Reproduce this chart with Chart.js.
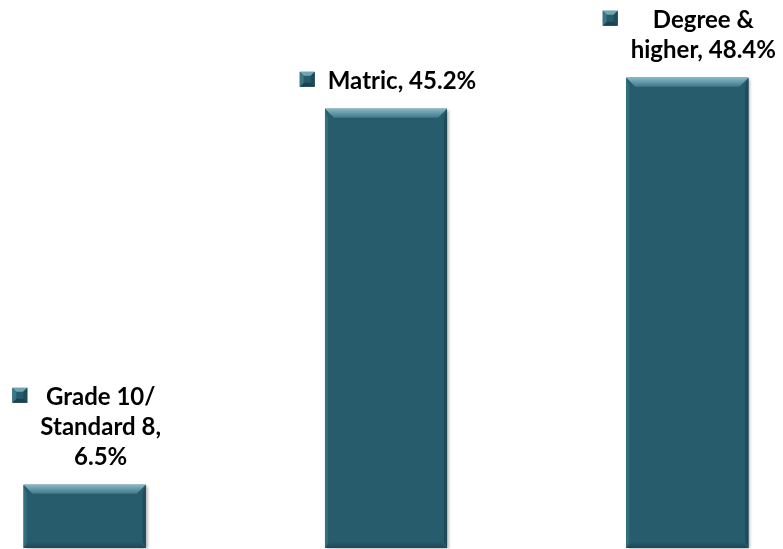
<!DOCTYPE html>
<html>
<head>
<meta charset="utf-8">
<script src="https://cdn.jsdelivr.net/npm/chart.js@4.4.1/dist/chart.umd.min.js"></script>
<style>
html,body{margin:0;padding:0;background:#fff;overflow:hidden;width:783px;height:549px;}
#wrap{position:absolute;left:-66px;top:0;width:904px;height:549px;}
</style>
</head>
<body>
<div id="wrap"><canvas id="c"></canvas></div>
<script>
const categories = [["Grade 10/", "Standard 8,"], ["Matric,"], ["Degree &", "higher,"]];
const values = [6.5, 45.2, 48.4];
const seriesName = "Education level";

const BAR = '#275c6c';

function labelLines(i) {
  const cat = categories[i];
  const v = values[i].toFixed(1) + '%';
  if (i === 0) return [cat[0], cat[1], v];
  if (i === 1) return [cat[0] + ' ' + v];
  return [cat[0], cat[1] + ' ' + v];
}

const bevelPlugin = {
  id: 'bevel',
  beforeDatasetsDraw(chart) {
    const ctx = chart.ctx;
    const meta = chart.getDatasetMeta(0);
    ctx.save();
    meta.data.forEach(el => {
      const w = el.width, l = el.x - w/2, t = el.y, h = el.base - el.y;
      ctx.shadowColor = 'rgba(0,0,0,0.35)';
      ctx.shadowBlur = 3;
      ctx.shadowOffsetX = 2;
      ctx.shadowOffsetY = 1;
      ctx.fillStyle = BAR;
      ctx.fillRect(l, t, w, h);
    });
    ctx.restore();
  },
  afterDatasetsDraw(chart) {
    const ctx = chart.ctx;
    const meta = chart.getDatasetMeta(0);
    ctx.save();
    meta.data.forEach(el => {
      const w = el.width, l = el.x - w/2, r = el.x + w/2, t = el.y, b = el.base;
      const bt = 9, bb = 6, bs = 3;
      let g = ctx.createLinearGradient(0, t, 0, t + bt);
      g.addColorStop(0, '#84b8c5');
      g.addColorStop(1, '#3f7888');
      ctx.fillStyle = g;
      ctx.beginPath();
      ctx.moveTo(l, t); ctx.lineTo(r, t); ctx.lineTo(r - bt, t + bt); ctx.lineTo(l + bt, t + bt); ctx.closePath();
      ctx.fill();
      g = ctx.createLinearGradient(0, b - bb, 0, b);
      g.addColorStop(0, '#265a6a');
      g.addColorStop(1, '#1e4755');
      ctx.fillStyle = g;
      ctx.beginPath();
      ctx.moveTo(l, b); ctx.lineTo(r, b); ctx.lineTo(r - bb, b - bb); ctx.lineTo(l + bb, b - bb); ctx.closePath();
      ctx.fill();
      ctx.fillStyle = '#33707f';
      ctx.beginPath();
      ctx.moveTo(l, t); ctx.lineTo(l + bs, t + bt); ctx.lineTo(l + bs, b - bb); ctx.lineTo(l, b); ctx.closePath();
      ctx.fill();
      ctx.fillStyle = '#1f4a58';
      ctx.beginPath();
      ctx.moveTo(r, t); ctx.lineTo(r - bs, t + bt); ctx.lineTo(r - bs, b - bb); ctx.lineTo(r, b); ctx.closePath();
      ctx.fill();
    });
    ctx.restore();
  }
};

function drawKey(ctx, x, y, s) {
  ctx.save();
  ctx.fillStyle = BAR;
  ctx.fillRect(x, y, s, s);
  const e = 4;
  ctx.fillStyle = '#6fa6b4';
  ctx.beginPath(); ctx.moveTo(x, y); ctx.lineTo(x + s, y); ctx.lineTo(x + s - e, y + e); ctx.lineTo(x + e, y + e); ctx.closePath(); ctx.fill();
  ctx.fillStyle = '#1b4250';
  ctx.beginPath(); ctx.moveTo(x, y + s); ctx.lineTo(x + s, y + s); ctx.lineTo(x + s - e, y + s - e); ctx.lineTo(x + e, y + s - e); ctx.closePath(); ctx.fill();
  ctx.fillStyle = '#3a7686';
  ctx.beginPath(); ctx.moveTo(x, y); ctx.lineTo(x + e, y + e); ctx.lineTo(x + e, y + s - e); ctx.lineTo(x, y + s); ctx.closePath(); ctx.fill();
  ctx.fillStyle = '#1f4a58';
  ctx.beginPath(); ctx.moveTo(x + s, y); ctx.lineTo(x + s - e, y + e); ctx.lineTo(x + s - e, y + s - e); ctx.lineTo(x + s, y + s); ctx.closePath(); ctx.fill();
  ctx.restore();
}

const labelPlugin = {
  id: 'labels',
  afterDatasetsDraw(chart) {
    const ctx = chart.ctx;
    const meta = chart.getDatasetMeta(0);
    const F = 24, LH = 30, key = 15, gap = 13;
    ctx.save();
    ctx.font = 'bold ' + F + 'px Lato, "Open Sans", sans-serif';
    ctx.fillStyle = '#000';
    ctx.textBaseline = 'alphabetic';
    ctx.textAlign = 'center';
    meta.data.forEach((el, i) => {
      const lines = labelLines(i);
      const tw = Math.max(...lines.map(s => ctx.measureText(s).width));
      const bw = key + gap + tw;
      const left = el.x - bw / 2 + 2;
      const textC = left + key + gap + tw / 2;
      const lastBase = el.y - 20;
      lines.forEach((s, k) => {
        const by = lastBase - (lines.length - 1 - k) * LH;
        ctx.fillText(s, textC, by);
      });
      const firstBase = lastBase - (lines.length - 1) * LH;
      drawKey(ctx, left, firstBase - 17, key);
    });
    ctx.restore();
  }
};

new Chart(document.getElementById('c'), {
  type: 'bar',
  data: {
    labels: categories.map(c => c.join(' ')),
    datasets: [{
      label: seriesName,
      data: values,
      backgroundColor: BAR,
      borderWidth: 0,
      categoryPercentage: 1,
      barPercentage: 0.405
    }]
  },
  options: {
    responsive: true,
    maintainAspectRatio: false,
    animation: false,
    layout: { padding: { top: 0, bottom: 1, left: 0, right: 0 } },
    plugins: { legend: { display: false }, tooltip: { enabled: false } },
    scales: {
      x: { display: false, offset: true, grid: { display: false } },
      y: { display: false, min: 0, max: 56.4, grid: { display: false } }
    }
  },
  plugins: [bevelPlugin, labelPlugin]
});
</script>
</body>
</html>
